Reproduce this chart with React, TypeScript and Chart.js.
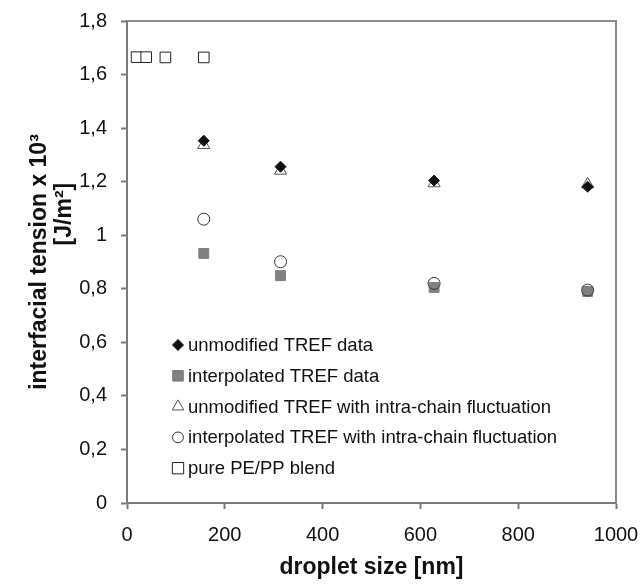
import React, { useEffect, useRef } from 'react';
import { Chart, registerables } from 'chart.js';
import { drawPoint } from 'chart.js/helpers';

Chart.register(...registerables);

// ---- data ----
const dropletSizes = [157, 314, 628, 942];
const blendSizes = [19.6, 39.3, 78.5, 157];
const unmodifiedTref = [1.353, 1.256, 1.204, 1.181];
const interpolatedTref = [0.932, 0.849, 0.805, 0.79];
const unmodifiedFluct = [1.337, 1.241, 1.194, 1.19];
const interpolatedFluct = [1.06, 0.901, 0.82, 0.795];
const pureBlend = [1.665, 1.665, 1.664, 1.664];

const seriesLabels = [
  'unmodified TREF data',
  'interpolated TREF data',
  'unmodified TREF with intra-chain fluctuation',
  'interpolated TREF with intra-chain fluctuation',
  'pure PE/PP blend',
];

const xTickValues = [0, 200, 400, 600, 800, 1000];
const xTickLabels = ['0', '200', '400', '600', '800', '1000'];
const yTickLabels = ['0', '0,2', '0,4', '0,6', '0,8', '1', '1,2', '1,4', '1,6', '1,8'];

const xTitle = 'droplet size [nm]';
const yTitleLines = ['interfacial tension x 10³', '               [J/m²]'];

// ---- styles ----
const FONT = '"Liberation Sans", Arial, Helvetica, sans-serif';
const AXIS = '#7a7a7a';
const legendMarkerRadius = [5.5, 7.5, 6.7, 5.4, 8];

const toPoints = (xs: number[], ys: number[]) => xs.map((x, i) => ({ x, y: ys[i] }));

const framePlugin = {
  id: 'frame',
  beforeDatasetsDraw(chart: any) {
    const { ctx, chartArea } = chart;
    ctx.save();
    ctx.strokeStyle = '#8c8c8c';
    ctx.lineWidth = 2;
    ctx.beginPath();
    ctx.moveTo(chartArea.left, chartArea.top);
    ctx.lineTo(chartArea.right, chartArea.top);
    ctx.lineTo(chartArea.right, chartArea.bottom);
    ctx.stroke();
    ctx.restore();
  },
};

const insideLegend = {
  id: 'insideLegend',
  afterDraw(chart: any) {
    const { ctx, chartArea } = chart;
    ctx.save();
    ctx.font = `18.5px ${FONT}`;
    ctx.textBaseline = 'middle';
    ctx.textAlign = 'left';
    chart.data.datasets.forEach((ds: any, i: number) => {
      const y = chartArea.top + 324 + i * 30.8;
      const x = chartArea.left + 51;
      ctx.fillStyle = ds.backgroundColor;
      ctx.strokeStyle = ds.borderColor;
      ctx.lineWidth = ds.borderWidth;
      drawPoint(ctx, { pointStyle: ds.pointStyle, radius: legendMarkerRadius[i], borderWidth: ds.borderWidth, rotation: 0 }, x, y);
      ctx.fillStyle = '#111';
      ctx.fillText(ds.label, chartArea.left + 61, y + 1);
    });
    ctx.restore();
  },
};

export default function App() {
  const ref = useRef<HTMLCanvasElement>(null);
  useEffect(() => {
    if (!ref.current) return;
    const chart = new Chart(ref.current, {
      type: 'scatter',
      data: {
        datasets: [
          {
            label: seriesLabels[0],
            data: toPoints(dropletSizes, unmodifiedTref),
            pointStyle: 'rectRot',
            pointRadius: 5.5,
            backgroundColor: '#111',
            borderColor: '#111',
            borderWidth: 1,
            order: 0,
          },
          {
            label: seriesLabels[1],
            data: toPoints(dropletSizes, interpolatedTref),
            pointStyle: 'rect',
            pointRadius: 7,
            backgroundColor: '#808080',
            borderColor: '#808080',
            borderWidth: 1,
            order: 3,
          },
          {
            label: seriesLabels[2],
            data: toPoints(dropletSizes, unmodifiedFluct),
            pointStyle: 'triangle',
            pointRadius: 7,
            backgroundColor: 'rgba(255,255,255,0)',
            borderColor: '#555',
            borderWidth: 1,
            order: 2,
          },
          {
            label: seriesLabels[3],
            data: toPoints(dropletSizes, interpolatedFluct),
            pointStyle: 'circle',
            pointRadius: 6,
            backgroundColor: 'rgba(255,255,255,0)',
            borderColor: '#333',
            borderWidth: 1,
            order: 1,
          },
          {
            label: seriesLabels[4],
            data: toPoints(blendSizes, pureBlend),
            pointStyle: 'rect',
            pointRadius: 7.5,
            backgroundColor: '#fff',
            borderColor: '#222',
            borderWidth: 1,
            order: 4,
          },
        ],
      },
      options: {
        responsive: false,
        animation: false,
        devicePixelRatio: 1,
        layout: { padding: { top: 21, right: 25, left: 0, bottom: 0 } },
        plugins: { legend: { display: false }, tooltip: { enabled: false } },
        scales: {
          x: {
            type: 'linear',
            min: 0,
            max: 1000,
            afterFit: (s: any) => {
              s.height = 81;
              s.paddingLeft = 0;
              s.paddingRight = 0;
              s.paddingTop = 0;
              s.paddingBottom = 0;
            },
            ticks: {
              stepSize: 200,
              autoSkip: false,
              maxRotation: 0,
              padding: 14,
              color: '#111',
              font: { family: FONT, size: 20 },
              callback: (v: any) => {
                const i = xTickValues.indexOf(Number(v));
                return i >= 0 ? xTickLabels[i] : '';
              },
            },
            grid: { drawOnChartArea: false, drawTicks: true, tickLength: 6, tickColor: AXIS, tickWidth: 2 },
            border: { display: true, color: AXIS, width: 2 },
            title: {
              display: true,
              text: xTitle,
              color: '#111',
              font: { family: FONT, size: 23, weight: 'bold', lineHeight: 1.2 },
              padding: { top: 0, bottom: 3 },
            },
          },
          y: {
            type: 'linear',
            min: 0,
            max: 1.8,
            afterFit: (s: any) => {
              s.width = 127;
              s.paddingTop = 0;
              s.paddingBottom = 0;
              s.paddingLeft = 0;
              s.paddingRight = 0;
            },
            ticks: {
              stepSize: 0.2,
              autoSkip: false,
              padding: 14,
              color: '#111',
              font: { family: FONT, size: 20 },
              callback: (v: any) => yTickLabels[Math.round(Number(v) / 0.2)] ?? '',
            },
            grid: { drawOnChartArea: false, drawTicks: true, tickLength: 6, tickColor: AXIS, tickWidth: 2 },
            border: { display: true, color: AXIS, width: 2 },
            title: {
              display: true,
              text: yTitleLines,
              color: '#111',
              font: { family: FONT, size: 23, weight: 'bold', lineHeight: 1.05 },
              padding: { top: 28, bottom: 0 },
            },
          },
        },
      },
      plugins: [framePlugin, insideLegend],
    } as any);
    return () => chart.destroy();
  }, []);
  return (
    <canvas
      ref={ref}
      width={641}
      height={584}
      style={{ position: 'absolute', left: 0, top: 0, display: 'block' }}
    />
  );
}
